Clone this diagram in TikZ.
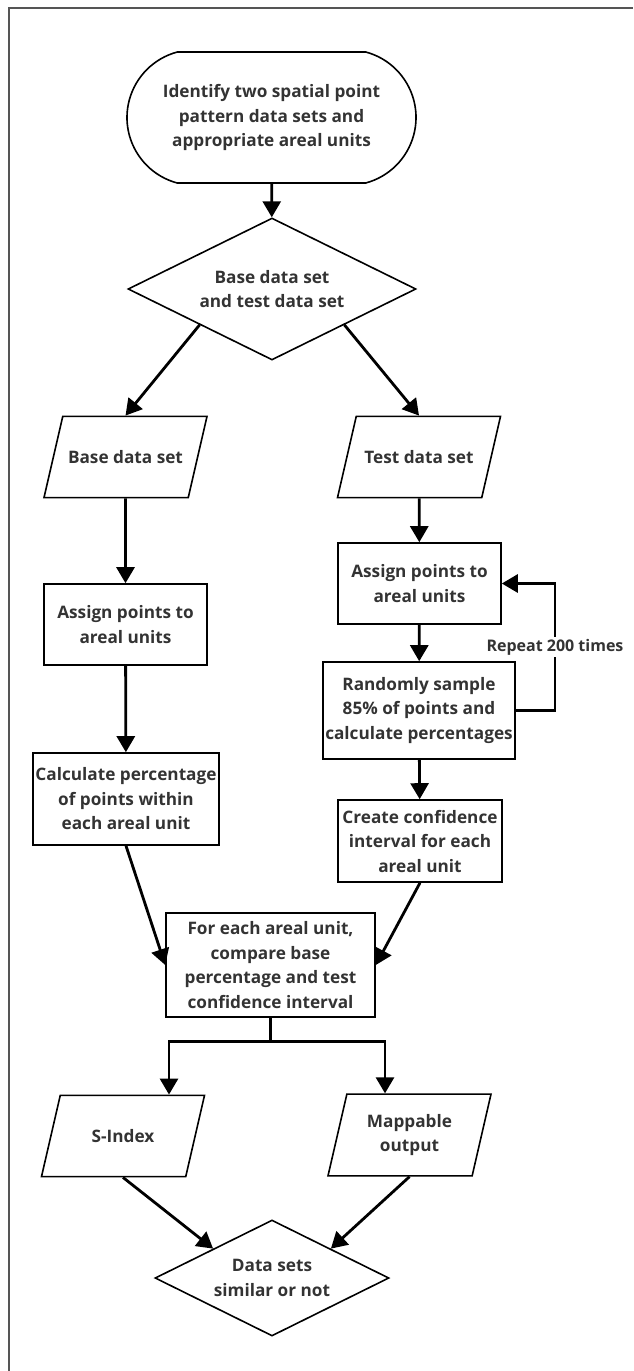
\documentclass[tikz,border=0pt]{standalone}
\usepackage{fontspec}
\setmainfont{Open Sans}
\usetikzlibrary{arrows.meta,positioning,shapes.geometric,shapes.misc,calc}
\definecolor{txtgray}{HTML}{333333}
\definecolor{framegray}{HTML}{555555}

\begin{document}
\begin{tikzpicture}[
    x=0.5pt, y=-0.5pt,
    shapebase/.style={draw, line width=0.8pt, align=center, text=txtgray, font=\fontsize{8.6}{12.25}\selectfont\bfseries, inner sep=1pt},
    procbox/.style={shapebase, rectangle},
    iobox/.style={shapebase, trapezium, trapezium left angle=77, trapezium right angle=103, trapezium stretches body=true, minimum width=81.5pt, inner ysep=17pt},
    terminal/.style={shapebase, rounded rectangle, rounded rectangle arc length=150, minimum width=146.5pt, minimum height=65.5pt},
    decision/.style={shapebase, diamond, aspect=2, inner sep=0pt},
    arrow/.style={-{Triangle[length=8pt, width=9pt]}, line width=1.4pt},
    lbl/.style={font=\fontsize{8}{12}\selectfont\bfseries, text=txtgray, fill=white, inner sep=1pt}
]
\useasboundingbox (0,0) rectangle (633,1371);
\draw[framegray, line width=0.75pt] (9,1371) -- (9,8) -- (633,8);

\node[terminal] (start) at (271.5,117.5) {Identify two spatial point\\pattern data sets and\\appropriate areal units};
\node[decision, minimum width=144pt, minimum height=71pt] (split1) at (272,289) {Base data set\\and test data set};

\node[iobox] (basein) at (125.5,457) {Base data set};
\node[iobox] (testin) at (419,457) {Test data set};

\node[procbox, minimum width=81.5pt, minimum height=40.5pt] (assignb) at (125.5,624.5) {Assign points to\\areal units};
\node[procbox, minimum width=93pt, minimum height=46pt] (calcb) at (126,799) {Calculate percentage\\of points within\\each areal unit};

\node[procbox, minimum width=81.5pt, minimum height=40.5pt] (assignt) at (419.5,583.5) {Assign points to\\areal units};
\node[procbox, minimum width=96pt, minimum height=48.5pt] (sample) at (419,710.5) {Randomly sample\\85\% of points and\\calculate percentages};
\node[procbox, minimum width=82pt, minimum height=41pt] (confint) at (420,841) {Create confidence\\interval for each\\areal unit};

\node[procbox, minimum width=104.5pt, minimum height=52pt] (compare) at (270.5,965) {For each areal unit,\\compare base\\percentage and test\\confidence interval};

\node[iobox] (sindex) at (123,1136) {S-Index};
\node[iobox, inner ysep=10pt] (mapout) at (409.5,1135) {Mappable\\output};
\node[decision, minimum width=117pt, minimum height=58pt] (similar) at (272,1278) {Data sets\\similar or not};

\draw[arrow] (start) -- (split1);
\draw[arrow] (split1.south west) -- (basein.north);
\draw[arrow] (split1.south east) -- (testin.north);

\draw[arrow] (basein) -- (assignb);
\draw[arrow] (assignb) -- (calcb);

\draw[arrow] (testin) -- (assignt);
\draw[arrow] (assignt) -- (sample);
\draw[arrow] (sample) -- (confint);
% loop back to the assignment step
\coordinate (loopx) at (555,0);
\draw[arrow] (sample.east) -| node[lbl, pos=0.75] {Repeat 200 times} (loopx |- assignt.east) -- (assignt.east);

\draw[arrow] (calcb.south) -- (compare.west);
\draw[arrow] (confint.south) -- (compare.east);

\coordinate (fork) at ($(compare.south)+(0,24)$);
\draw[line width=1.4pt] (compare.south) -- (fork);
\draw[arrow] (fork) -| ($(sindex.north)+(46,0)$);
\draw[arrow] (fork) -| ($(mapout.north)+(-24.5,0)$);

\draw[arrow] (sindex.south) -- (similar.north west);
\draw[arrow] (mapout.south) -- (similar.north east);

\end{tikzpicture}
\end{document}
